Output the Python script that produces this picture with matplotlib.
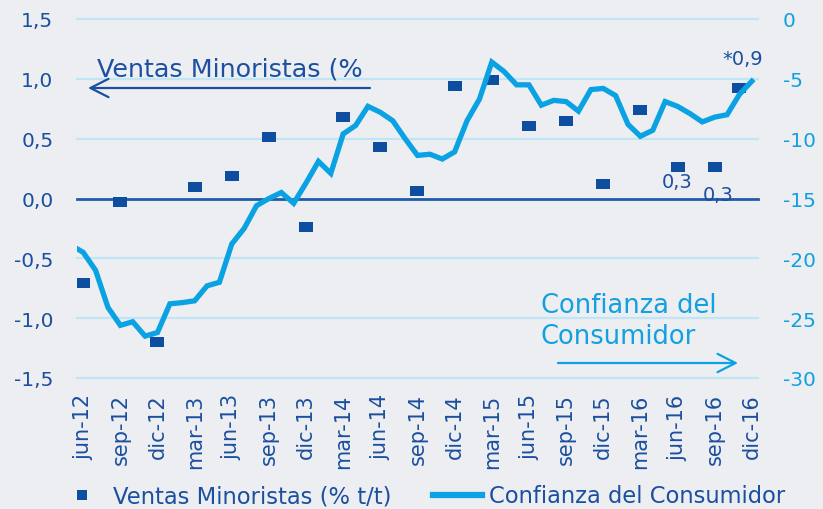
import matplotlib
matplotlib.use('Agg')
import matplotlib.pyplot as plt
from matplotlib.lines import Line2D

# ---------------- data ----------------
month_names = ["ene", "feb", "mar", "abr", "may", "jun", "jul", "ago", "sep", "oct", "nov", "dic"]
# monthly categories jun-12 .. dic-16 (index 0..54); may-12 (index -1) is clipped at the left edge
months = [f"{month_names[(5 + i) % 12]}-{12 + (5 + i) // 12}" for i in range(-1, 55)]

confianza = [-18.9, -19.5, -21.0, -24.1, -25.6, -25.3, -26.5, -26.2, -23.8, -23.7,
             -23.55, -22.3, -22.0, -18.8, -17.5, -15.6, -15.0, -14.5, -15.4, -13.7,
             -11.9, -12.9, -9.6, -8.9, -7.3, -7.8, -8.5, -10.0, -11.4, -11.3,
             -11.7, -11.1, -8.5, -6.7, -3.6, -4.4, -5.5, -5.5, -7.2, -6.8,
             -6.9, -7.7, -5.9, -5.8, -6.4, -8.8, -9.8, -9.3, -6.9, -7.3,
             -7.9, -8.6, -8.2, -8.0, -6.3, -5.2]

ventas_months = ["jun-12", "sep-12", "dic-12", "mar-13", "jun-13", "sep-13", "dic-13",
                 "mar-14", "jun-14", "sep-14", "dic-14", "mar-15", "jun-15", "sep-15",
                 "dic-15", "mar-16", "jun-16", "sep-16", "nov-16"]
ventas = [-0.71, -0.03, -1.20, 0.10, 0.19, 0.51, -0.24, 0.68, 0.43, 0.06, 0.94, 0.99,
          0.61, 0.65, 0.12, 0.74, 0.26, 0.26, 0.92]

tick_labels = ["jun-12", "sep-12", "dic-12", "mar-13", "jun-13", "sep-13", "dic-13",
               "mar-14", "jun-14", "sep-14", "dic-14", "mar-15", "jun-15", "sep-15",
               "dic-15", "mar-16", "jun-16", "sep-16", "dic-16"]

left_ticks = [-1.5, -1.0, -0.5, 0.0, 0.5, 1.0, 1.5]
right_ticks = [-30, -25, -20, -15, -10, -5, 0]

# ---------------- style ----------------
BG = '#ECEEF1'
DARK = '#1B4F9F'
SQUARE = '#0D4EA0'
LIGHT = '#0AA2E2'
LIGHT_TXT = '#12A0E0'
GRID = '#BFE5F6'
ZERO = '#1F5BAA'

plt.rcParams['font.family'] = ['DejaVu Sans']

W, H = 823, 510
fig = plt.figure(figsize=(W / 100, H / 100), dpi=100, facecolor=BG)
L, R, T, B = 77, 758, 20, 379
ax = fig.add_axes([L / W, 1 - B / H, (R - L) / W, (B - T) / H])
ax.set_facecolor(BG)
ax2 = ax.twinx()

idx = {m: i - 1 for i, m in enumerate(months)}
x_line = [idx[m] for m in months]
x_sq = [idx[m] for m in ventas_months]

# grid
for t in left_ticks:
    if t == 0:
        ax.axhline(t, color=ZERO, lw=2.0, zorder=1, clip_on=False)
    else:
        ax.axhline(t, color=GRID, lw=1.6, zorder=0.5, clip_on=False)

rect = [(-1, -0.69), (1, -0.69), (1, 0.69), (-1, 0.69), (-1, -0.69)]
ax.plot(x_sq, ventas, linestyle='none', marker=rect, markersize=9.6,
        color=SQUARE, markeredgewidth=0, zorder=3)
ax2.plot(x_line, confianza, color=LIGHT, lw=3.8, solid_joinstyle='miter', zorder=3)

ax.set_xlim(-0.5, 54.5)
ax.set_ylim(-1.5, 1.5)
ax2.set_ylim(-30, 0)

ax.set_yticks(left_ticks)
ax.set_yticklabels([f"{v:.1f}".replace('.', ',') for v in left_ticks])
ax2.set_yticks(right_ticks)
ax2.set_yticklabels([str(v) for v in right_ticks])

ax.set_xticks([idx[m] for m in tick_labels])
ax.set_xticklabels(tick_labels, rotation=90, va='top', ha='center')

ax.tick_params(axis='y', length=0, pad=17, labelsize=14.5, labelcolor=DARK)
ax.tick_params(axis='x', length=0, pad=11, labelsize=15, labelcolor=DARK)
ax2.tick_params(axis='y', length=0, pad=18, labelsize=14.5, labelcolor=LIGHT_TXT)
for a in (ax, ax2):
    for s in a.spines.values():
        s.set_visible(False)

# value labels
ax.annotate("0,3", xy=(idx["jun-16"], 0.26), xytext=(0, -20), textcoords='offset pixels',
            ha='center', va='baseline', fontsize=14, color=DARK, zorder=4)
ax.annotate("0,3", xy=(idx["sep-16"], 0.26), xytext=(3, -33), textcoords='offset pixels',
            ha='center', va='baseline', fontsize=14, color=DARK, zorder=4)
ax.annotate("*0,9", xy=(idx["nov-16"], 0.92), xytext=(3, 24), textcoords='offset pixels',
            ha='center', va='baseline', fontsize=14, color=DARK, zorder=4)

# annotations with arrows
fig.text(97 / W, 1 - 77 / H, "Ventas Minoristas (%", fontsize=18.3, color=DARK,
         ha='left', va='baseline')
fig.text(541 / W, 1 - 313 / H, "Confianza del", fontsize=18.5, color=LIGHT_TXT,
         ha='left', va='baseline')
fig.text(541 / W, 1 - 344 / H, "Consumidor", fontsize=18.5, color=LIGHT_TXT,
         ha='left', va='baseline')

ax.annotate('', xy=(88, H - 89), xytext=(370, H - 89), xycoords='figure pixels',
            textcoords='figure pixels',
            arrowprops=dict(arrowstyle='->,head_length=0.65,head_width=0.33',
                            color=DARK, lw=1.6, shrinkA=0, shrinkB=0, mutation_scale=20))
ax.annotate('', xy=(738, H - 364), xytext=(558, H - 364), xycoords='figure pixels',
            textcoords='figure pixels',
            arrowprops=dict(arrowstyle='->,head_length=0.65,head_width=0.33',
                            color=LIGHT, lw=1.6, shrinkA=0, shrinkB=0, mutation_scale=20))

# legend
h1 = Line2D([], [], linestyle='none', marker='s', markersize=7, color=SQUARE,
            markeredgewidth=0)
h2 = Line2D([], [], color=LIGHT, lw=4.5)
fig.legend([h1, h2], ["Ventas Minoristas (% t/t)", "Confianza del Consumidor"],
           loc='center', bbox_to_anchor=(421 / W, 1 - 497 / H), ncol=2, frameon=False,
           fontsize=16.3, handlelength=2.2, handletextpad=0.3, columnspacing=1.8,
           labelcolor=DARK, borderpad=0, borderaxespad=0)

fig.savefig('out.png', dpi=100, facecolor=BG)
